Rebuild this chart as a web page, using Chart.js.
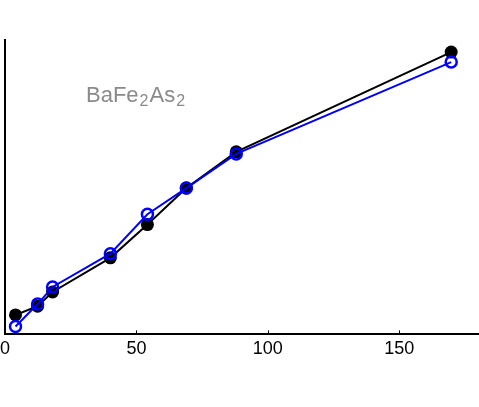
<!DOCTYPE html>
<html>
<head>
<meta charset="utf-8">
<script src="https://cdn.jsdelivr.net/npm/chart.js@4"></script>
<style>
  html, body { margin: 0; padding: 0; background: #fff; }
  #wrap { width: 479px; height: 407px; }
</style>
</head>
<body>
<div id="wrap"><canvas id="chart" width="479" height="407"></canvas></div>
<script>
// temperature-ish x values, normalized y (no y labels on the original)
const xBlack = [4.0, 12.4, 18.1, 40.1, 54.2, 69.0, 88.0, 169.8];
const yBlack = [0.066, 0.096, 0.144, 0.26, 0.373, 0.497, 0.62, 0.959];

const xBlue = [4.0, 12.4, 18.1, 40.1, 54.2, 69.0, 88.0, 169.8];
const yBlue = [0.027, 0.103, 0.161, 0.274, 0.408, 0.497, 0.613, 0.925];

const xTicks = [0, 50, 100, 150];

const toPoints = (X, Y) => X.map((x, i) => ({ x, y: Y[i] }));

// inward tick marks + compound label
const extras = {
  id: 'extras',
  afterDraw(chart) {
    const { ctx, scales: { x }, chartArea } = chart;
    ctx.save();
    ctx.strokeStyle = '#000';
    ctx.lineWidth = 1;
    xTicks.forEach(v => {
      const px = Math.round(x.getPixelForValue(v)) + 0.5;
      ctx.beginPath();
      ctx.moveTo(px, chartArea.bottom);
      ctx.lineTo(px, chartArea.bottom - 4);
      ctx.stroke();
    });

    ctx.fillStyle = '#8a8a8a';
    ctx.textBaseline = 'alphabetic';
    let cx = 86;
    const by = 102;
    const parts = [['BaFe', 22, 0], ['2', 16, 4], ['As', 22, 0], ['2', 16, 4]];
    parts.forEach(([t, size, dy]) => {
      ctx.font = `${size}px "Liberation Sans", Arial, sans-serif`;
      ctx.fillText(t, cx, by + dy);
      cx += ctx.measureText(t).width + 1;
    });
    ctx.restore();
  }
};

const ctx = document.getElementById('chart').getContext('2d');
const chart = new Chart(ctx, {
  type: 'scatter',
  data: {
    datasets: [
      {
        label: 'black',
        data: toPoints(xBlack, yBlack),
        showLine: true,
        borderColor: '#000',
        backgroundColor: '#000',
        borderWidth: 2,
        pointRadius: 6.5,
        pointBorderWidth: 0,
        pointBackgroundColor: '#000',
        order: 2,
      },
      {
        label: 'blue',
        data: toPoints(xBlue, yBlue),
        showLine: true,
        borderColor: '#0000ff',
        backgroundColor: 'transparent',
        borderWidth: 2,
        pointRadius: 5.5,
        pointBorderWidth: 2.5,
        pointBorderColor: '#0000ff',
        pointBackgroundColor: 'transparent',
        order: 1,
      },
    ]
  },
  options: {
    responsive: false,
    animation: false,
    layout: { autoPadding: false, padding: { top: 40, right: 1, left: 5, bottom: 43 } },
    plugins: { legend: { display: false }, tooltip: { enabled: false } },
    scales: {
      x: {
        type: 'linear',
        min: 0,
        max: 180,
        afterBuildTicks: (scale) => {
          scale.ticks = xTicks.map(v => ({ value: v }));
        },
        afterFit: (scale) => {
          scale.paddingLeft = 0;
          scale.paddingRight = 0;
        },
        grid: { display: false, drawTicks: false },
        border: { display: true, color: '#000', width: 2 },
        ticks: {
          padding: 4,
          color: '#000',
          font: { size: 18, family: '"Liberation Sans", Arial, sans-serif' },
          maxRotation: 0,
        },
      },
      y: {
        min: 0,
        max: 1,
        afterFit: (scale) => { scale.width = 0; },
        grid: { display: false, drawTicks: false },
        border: { display: true, color: '#000', width: 2 },
        ticks: { display: false },
      },
    },
  },
  plugins: [extras],
});
</script>
</body>
</html>
